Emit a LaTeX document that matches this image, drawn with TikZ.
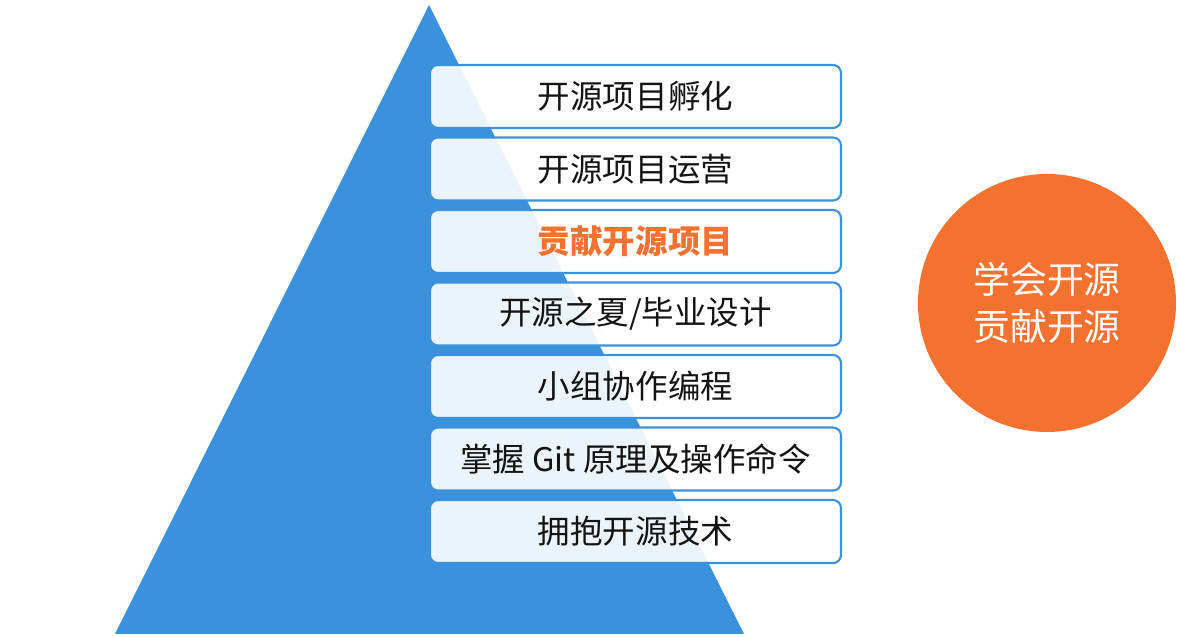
\documentclass[tikz,border=0pt]{standalone}
\usepackage{fontspec}
\setmainfont{Noto Sans CJK SC}
\usepackage{tikz}
\usetikzlibrary{positioning}
\definecolor{pyrBlue}{RGB}{58, 146, 221}
\definecolor{goalOrange}{RGB}{244, 113, 48}
\definecolor{stepText}{RGB}{20, 20, 20}

\begin{document}
\begin{tikzpicture}[
    stepbox/.style={draw=pyrBlue, line width=1.2pt, rounded corners=0.16cm,
      fill=white, fill opacity=0.9, text opacity=1, text=stepText,
      minimum width=8.22cm, minimum height=1.26cm, inner sep=0pt,
      font=\fontsize{18.5}{22}\selectfont},
    node distance=0.148cm
  ]
  \useasboundingbox (0,0) rectangle (23.54,12.74);

  % Pyramid
  \fill[pyrBlue] (2.30,0.06) -- (8.58,12.64) -- (14.88,0.06) -- cycle;

  % Steps, top to bottom
  \node[stepbox] (incubate) at (12.71,10.81) {开源项目孵化};
  \node[stepbox, below=of incubate] (operate) {开源项目运营};
  \node[stepbox, below=of operate, text=goalOrange,
    font=\fontsize{18.5}{22}\selectfont\bfseries] (contrib) {贡献开源项目};
  \node[stepbox, below=of contrib] (summer) {开源之夏/毕业设计};
  \node[stepbox, below=of summer] (team) {小组协作编程};
  \node[stepbox, below=of team] (git) {掌握 Git 原理及操作命令};
  \node[stepbox, below=of git] (embrace) {拥抱开源技术};

  % Goal
  \node[circle, fill=goalOrange, minimum size=5.16cm, text=white, align=center,
    font=\fontsize{21}{27}\selectfont] (goal) at (20.94,6.68) {学会开源\\贡献开源};
\end{tikzpicture}
\end{document}
